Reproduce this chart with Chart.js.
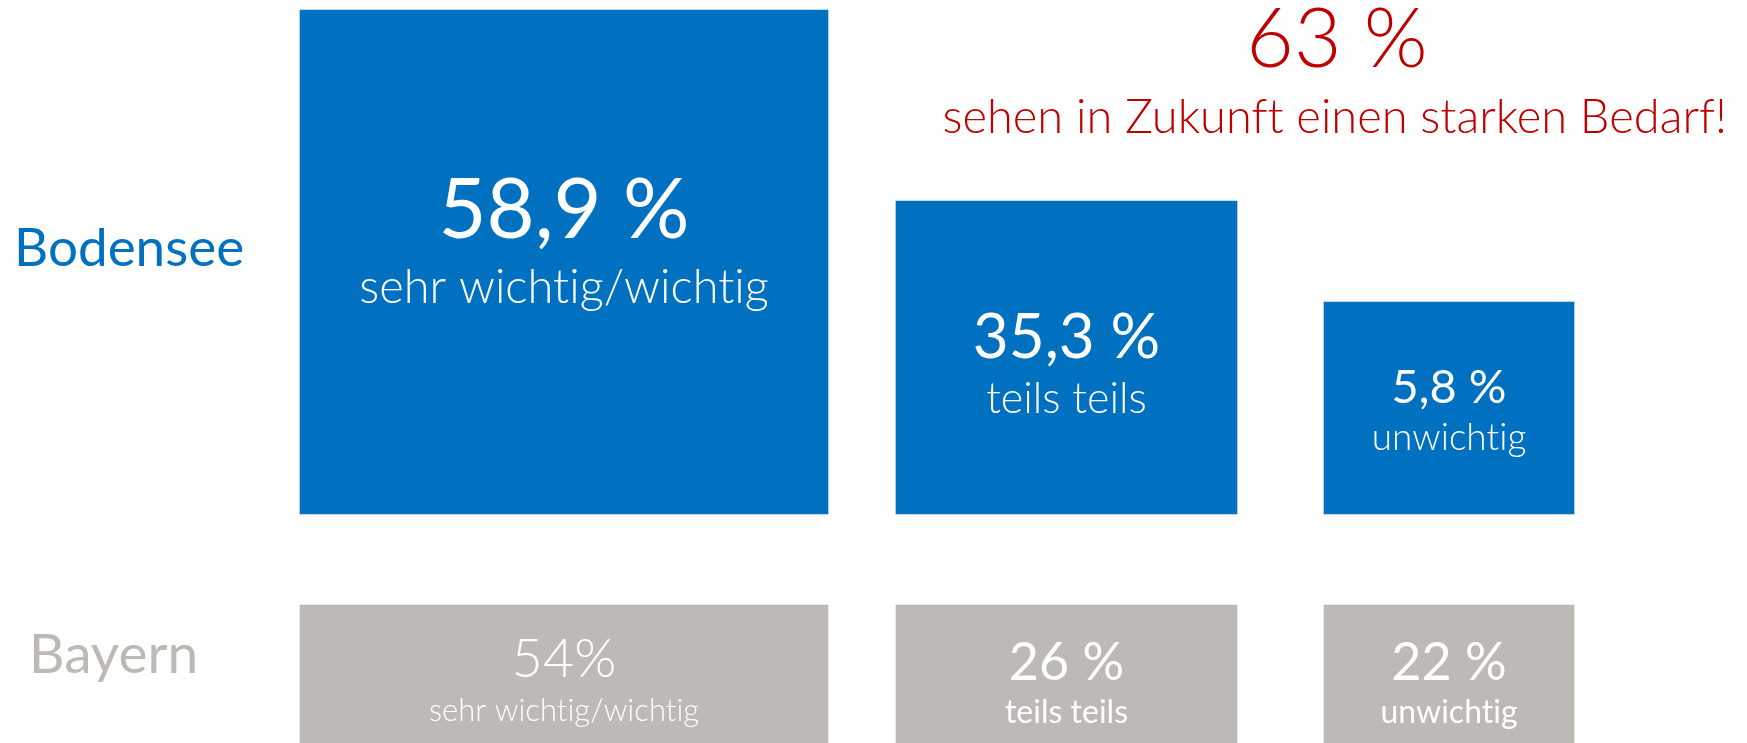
<!DOCTYPE html>
<html>
<head>
<meta charset="utf-8">
<script src="https://cdn.jsdelivr.net/npm/chart.js@4"></script>
<style>
  html, body { margin: 0; padding: 0; background: #fff; }
  #wrap { width: 1747px; height: 743px; }
</style>
</head>
<body>
<div id="wrap"><canvas id="chart"></canvas></div>
<script>
const categories = ['sehr wichtig/wichtig', 'teils teils', 'unwichtig'];
const regions = ['Bodensee', 'Bayern'];
const bodenseeValues = [58.9, 35.3, 5.8];
const bayernValues = [54, 26, 22];
const bodenseeLabels = ['58,9 %', '35,3 %', '5,8 %'];
const bayernLabels = ['54%', '26 %', '22 %'];
const highlightValue = '63 %';
const highlightText = 'sehen in Zukunft einen starken Bedarf!';

// infographic layout, page pixels (boxes are not drawn to scale in the original)
const colCenter = [564, 1066.5, 1449];
const colWidth = [528, 341, 250];
const topBoxTop = [10, 201, 302];
const topBoxBottom = 514;
const lowBoxTop = 605;
const lowBoxBottom = 760;

const BLUE = '#0070c0';
const GREY = '#bdb9b5';
const RED = '#c00000';

// text styles per column: [size, weight, baseline offset from box centre]
const topValueFont = [[83, 400, -24], [62, 400, 0], [47, 400, -5]];
const topCatFont = [[47, 300, 41], [43, 300, 55], [37, 300, 42]];
const lowValueFont = [[54, 300, 2], [52, 400, 5], [52, 400, 5]];
const lowCatFont = [[31, 300, 46], [32, 400, 48], [32, 400, 48]];

const datasets = categories.map((cat, i) => ({
  label: cat,
  data: [
    { x: colCenter[i], y: [topBoxBottom, topBoxTop[i]], v: bodenseeValues[i] },
    { x: colCenter[i], y: [lowBoxBottom, lowBoxTop], v: bayernValues[i] }
  ],
  backgroundColor: [BLUE, GREY],
  borderWidth: 0,
  barThickness: colWidth[i],
  grouped: false
}));

function put(ctx, text, x, y, size, weight, color, align) {
  ctx.font = weight + ' ' + size + 'px Lato';
  ctx.letterSpacing = '0.01px'; // no "ti" ligature, like the original
  ctx.fillStyle = color;
  ctx.textAlign = align || 'center';
  ctx.textBaseline = 'alphabetic';
  ctx.fillText(text, x, y);
}

const labelPlugin = {
  id: 'boxLabels',
  afterDatasetsDraw(chart) {
    const ctx = chart.ctx;
    ctx.save();
    chart.data.datasets.forEach((ds, i) => {
      const meta = chart.getDatasetMeta(i);
      meta.data.forEach((bar, j) => {
        const top = Math.min(bar.y, bar.base);
        const bottom = Math.min(Math.max(bar.y, bar.base), chart.height);
        const mid = j === 0 ? (top + bottom) / 2 : top + 70;
        const vf = j === 0 ? topValueFont[i] : lowValueFont[i];
        const cf = j === 0 ? topCatFont[i] : lowCatFont[i];
        const valText = j === 0 ? bodenseeLabels[i] : bayernLabels[i];
        put(ctx, valText, bar.x, mid + vf[2], vf[0], vf[1], '#ffffff');
        put(ctx, ds.label, bar.x, mid + cf[2], cf[0], cf[1], '#ffffff');
      });
    });
    // row labels
    put(ctx, regions[0], 14, 266, 53, 400, BLUE, 'left');
    put(ctx, regions[1], 29, 673, 55, 400, GREY, 'left');
    // headline
    put(ctx, highlightValue, 1337, 67, 82, 300, RED);
    put(ctx, highlightText, 1727, 133, 47, 300, RED, 'right');
    ctx.restore();
  }
};

new Chart(document.getElementById('chart'), {
  type: 'bar',
  data: { datasets },
  options: {
    responsive: true,
    maintainAspectRatio: false,
    animation: false,
    layout: { padding: 0 },
    plugins: { legend: { display: false }, tooltip: { enabled: false } },
    scales: {
      x: { type: 'linear', min: 0, max: 1747, offset: false, display: false },
      y: { type: 'linear', min: 0, max: 743, reverse: true, display: false }
    }
  },
  plugins: [labelPlugin]
});
</script>
</body>
</html>
